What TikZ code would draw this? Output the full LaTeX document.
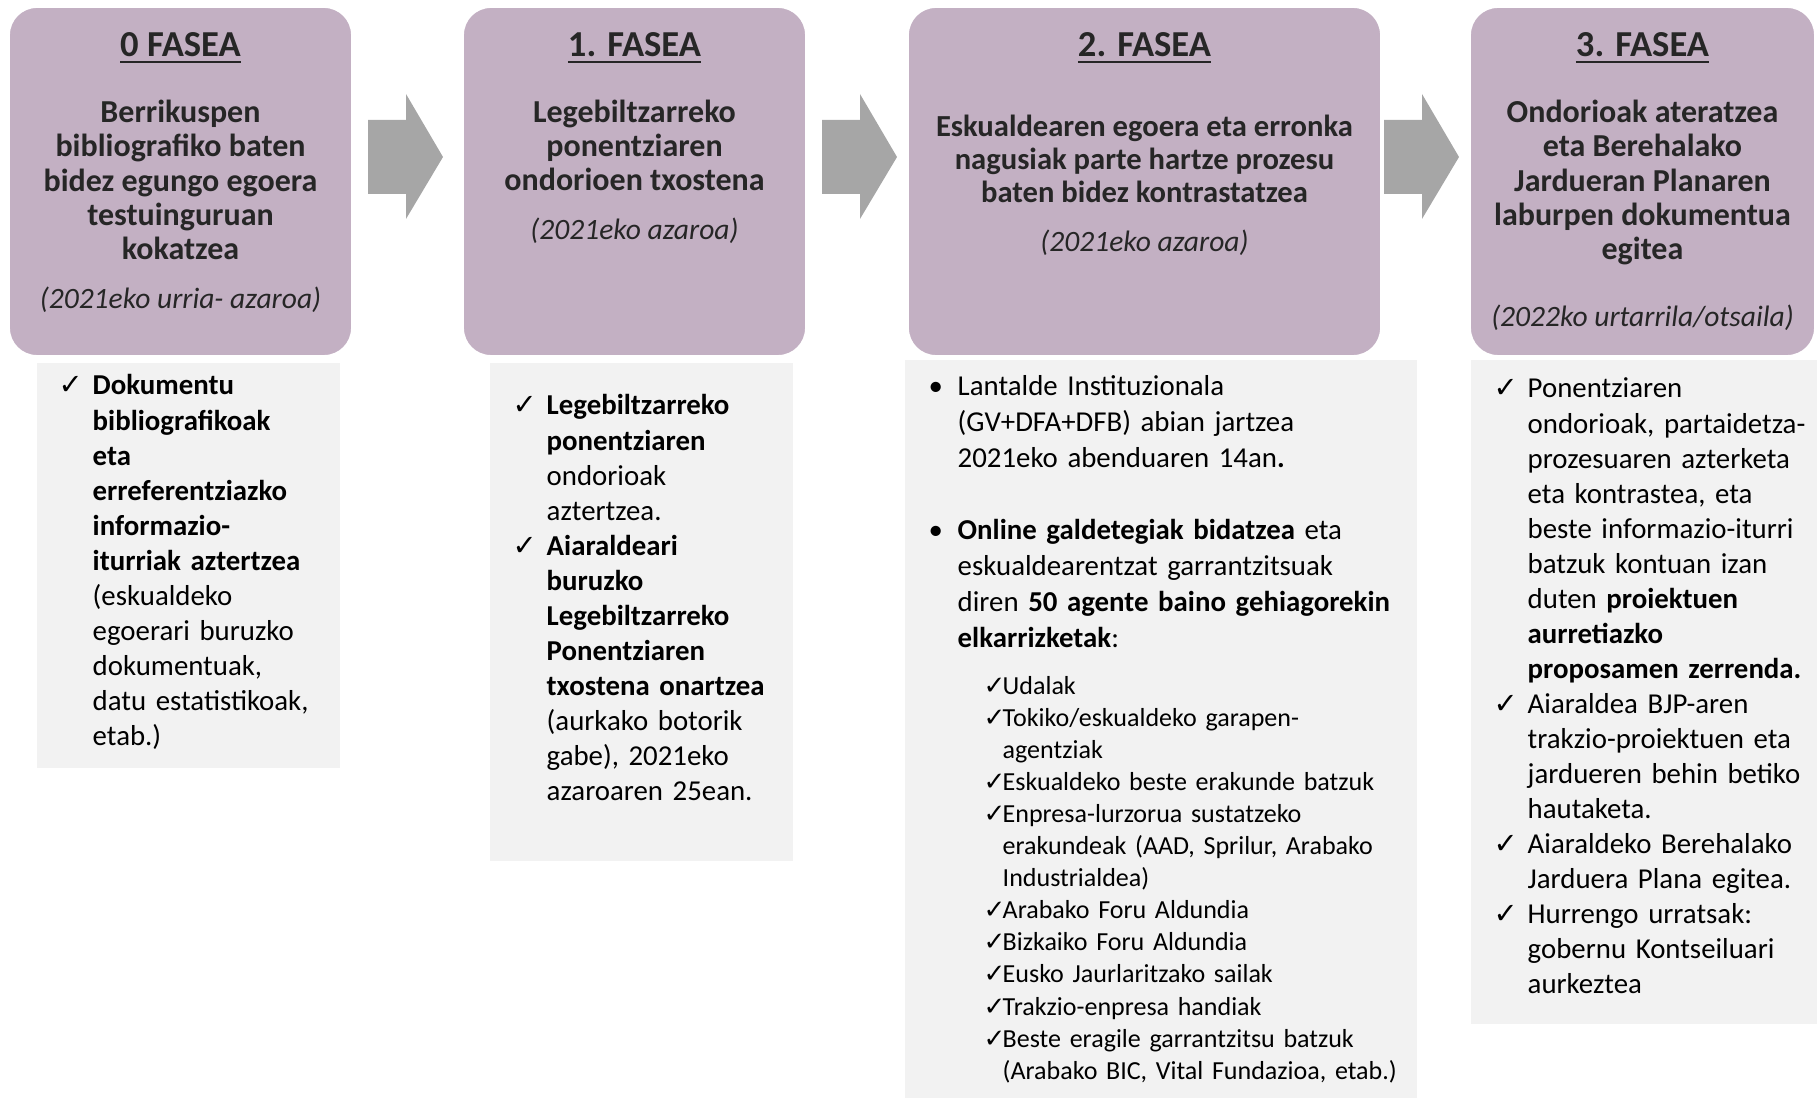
\documentclass[tikz,border=0pt]{standalone}
\usepackage{fontspec}
\setmainfont{Carlito}
\newfontfamily\checkfont{DejaVu Sans}
\usetikzlibrary{calc}

\definecolor{phasepurple}{RGB}{195,176,195}
\definecolor{listgray}{RGB}{242,242,242}
\definecolor{arrowgray}{RGB}{166,166,166}
\definecolor{headtext}{RGB}{38,38,38}

% list marks with hanging indent (first item of a node: no \par)
\newcommand{\ckmark}{\hangindent=0.34cm\hangafter=1\makebox[0.34cm][l]{\checkfont\bfseries\char"2713}}
\newcommand{\ckitem}{\par\noindent\ckmark}
\newcommand{\bulmark}{\hangindent=0.29cm\hangafter=1\makebox[0.29cm][l]{\textbullet}}
\newcommand{\bulitem}{\par\noindent\bulmark}
\newcommand{\agentmark}{\hangindent=0.19cm\hangafter=1\makebox[0.19cm][l]{\checkfont\bfseries\char"2713}}
\newcommand{\agentitem}{\par\noindent\agentmark}

\tikzset{
  phasebox/.style={draw=white, line width=0.6pt, fill=phasepurple, rounded corners=0.28cm, inner sep=0pt},
  phasetitle/.style={font=\fontsize{10.4}{12}\selectfont\bfseries, text=headtext, inner sep=0pt, anchor=base},
  phasesub/.style={font=\fontsize{9.1}{9.8}\selectfont\bfseries, text=headtext, align=center, inner sep=0pt, anchor=base},
  phasedate/.style={font=\fontsize{8.4}{9.8}\selectfont\itshape, text=headtext, inner sep=0pt, anchor=base},
  listbox/.style={fill=listgray, inner sep=0pt, anchor=north west},
  listtext/.style={font=\fontsize{8.2}{9.96}\selectfont, align=left, inner sep=0pt, anchor=base west},
  flowarrow/.style={fill=arrowgray}
}

\begin{document}
\begin{tikzpicture}[x=0.01cm,y=-0.01cm]
\useasboundingbox (0,0) rectangle (1817,1098);

% gray lists behind
\node[listbox, minimum width=3.03cm, minimum height=4.05cm] (g0) at (36,362) {};
\node[listbox, minimum width=3.03cm, minimum height=4.98cm] (g1) at (489,362) {};
\node[listbox, minimum width=5.12cm, minimum height=7.39cm] (g2) at (904,359) {};
\node[listbox, minimum width=3.47cm, minimum height=6.64cm] (g3) at (1470,359) {};

% phase boxes
\node[phasebox, minimum width=3.43cm, minimum height=3.49cm] (ph0) at (180.5,181.5) {};
\node[phasebox, minimum width=3.43cm, minimum height=3.49cm] (ph1) at (634.5,181.5) {};
\node[phasebox, minimum width=4.73cm, minimum height=3.49cm] (ph2) at (1144.5,181.5) {};
\node[phasebox, minimum width=3.45cm, minimum height=3.49cm] (ph3) at (1642.5,181.5) {};

% block arrows between phases
\foreach \ax in {368,822,1384}
  \fill[flowarrow] (\ax,120) -- ++(38,0) -- ++(0,-26) -- ++(37,63) -- ++(-37,62) -- ++(0,-25) -- ++(-38,0) -- cycle;

% 0
\node[phasetitle] (t0) at (ph0.center |- 0,57) {\underline{0 FASEA}};
\node[phasesub] (s0) at (ph0.center |- 0,260) {Berrikuspen\\bibliografiko baten\\bidez egungo egoera\\testuinguruan\\kokatzea};
\node[phasedate] (d0) at (ph0.center |- 0,309) {(2021eko urria- azaroa)};
% 1
\node[phasetitle] (t1) at (ph1.center |- 0,57) {\underline{1. FASEA}};
\node[phasesub] (s1) at (ph1.center |- 0,191) {Legebiltzarreko\\ponentziaren\\ondorioen txostena};
\node[phasedate] (d1) at (ph1.center |- 0,240) {(2021eko azaroa)};
% 2
\node[phasetitle] (t2) at (ph2.center |- 0,57) {\underline{2. FASEA}};
\node[phasesub, font=\fontsize{8.7}{9.5}\selectfont\bfseries] (s2) at (ph2.center |- 0,203) {Eskualdearen egoera eta erronka\\nagusiak parte hartze prozesu\\baten bidez kontrastatzea};
\node[phasedate] (d2) at (ph2.center |- 0,252) {(2021eko azaroa)};
% 3
\node[phasetitle] (t3) at (ph3.center |- 0,57) {\underline{3. FASEA}};
\node[phasesub] (s3) at (ph3.center |- 0,260) {Ondorioak ateratzea\\eta Berehalako\\Jardueran Planaren\\laburpen dokumentua\\egitea};
\node[phasedate] (d3) at (ph3.center |- 0,327) {(2022ko urtarrila/otsaila)};

% list texts
\node[listtext, text width=3.2cm] (l0) at (58,395) {%
\ckmark\textbf{Dokumentu\newline bibliografikoak\newline eta\newline erreferentziazko\newline informazio-\newline iturriak aztertzea}\newline (eskualdeko\newline egoerari buruzko\newline dokumentuak,\newline datu estatistikoak,\newline etab.)\par};

\node[listtext, text width=3.2cm] (l1) at (512,415) {%
\ckmark\textbf{Legebiltzarreko\newline ponentziaren}\newline ondorioak\newline aztertzea.
\ckitem\textbf{Aiaraldeari\newline buruzko\newline Legebiltzarreko\newline Ponentziaren\newline txostena onartzea}\newline (aurkako botorik\newline gabe), 2021eko\newline azaroaren 25ean.\par};

\node[listtext, font=\fontsize{8.2}{10.2}\selectfont, text width=4.8cm] (l2) at (928,396) {%
\bulmark Lantalde Instituzionala\newline (GV+DFA+DFB) abian jartzea\newline 2021eko abenduaren 14an\textbf{.}
\par\vskip0.36cm
\bulitem\textbf{Online galdetegiak bidatzea} eta\newline eskualdearentzat garrantzitsuak\newline diren \textbf{50 agente baino gehiagorekin}\newline \textbf{elkarrizketak}:\par};

\node[listtext, font=\fontsize{7.4}{9.1}\selectfont, text width=4.6cm] (l2s) at (983,695) {%
\agentmark Udalak
\agentitem Tokiko/eskualdeko garapen-\newline agentziak
\agentitem Eskualdeko beste erakunde batzuk
\agentitem Enpresa-lurzorua sustatzeko\newline erakundeak (AAD, Sprilur, Arabako\newline Industrialdea)
\agentitem Arabako Foru Aldundia
\agentitem Bizkaiko Foru Aldundia
\agentitem Eusko Jaurlaritzako sailak
\agentitem Trakzio-enpresa handiak
\agentitem Beste eragile garrantzitsu batzuk\newline (Arabako BIC, Vital Fundazioa, etab.)\par};

\node[listtext, text width=4cm] (l3) at (1493,398) {%
\ckmark Ponentziaren\newline ondorioak, partaidetza-\newline prozesuaren azterketa\newline eta kontrastea, eta\newline beste informazio-iturri\newline batzuk kontuan izan\newline duten \textbf{proiektuen\newline aurretiazko\newline proposamen zerrenda.}
\ckitem Aiaraldea BJP-aren\newline trakzio-proiektuen eta\newline jardueren behin betiko\newline hautaketa.
\ckitem Aiaraldeko Berehalako\newline Jarduera Plana egitea.
\ckitem Hurrengo urratsak:\newline gobernu Kontseiluari\newline aurkeztea\par};
\end{tikzpicture}
\end{document}
